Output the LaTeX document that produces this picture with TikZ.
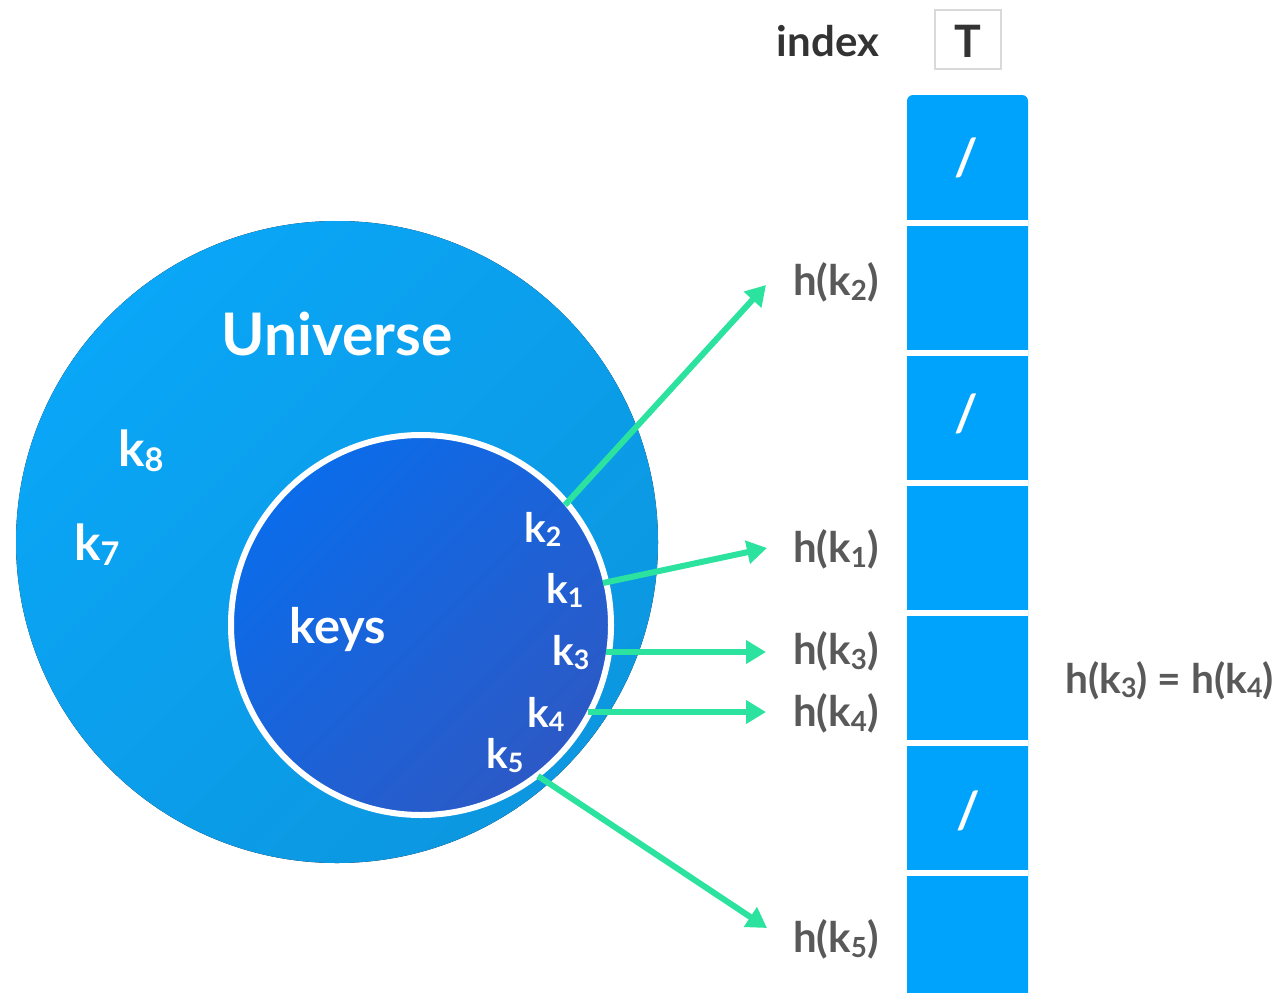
\documentclass[tikz,border=0pt]{standalone}
\usepackage{fontspec}
\setmainfont{Lato}
\usepackage{graphicx}
\usetikzlibrary{arrows.meta}
\definecolor{uniA}{HTML}{0AA6F7}
\definecolor{uniB}{HTML}{0C97E0}
\definecolor{keyA}{HTML}{0B6CEA}
\definecolor{keyB}{HTML}{2C59C6}
\definecolor{tbl}{HTML}{00A3FB}
\definecolor{arr}{HTML}{2BE39E}
\definecolor{hgray}{HTML}{595959}
\definecolor{darktxt}{HTML}{333333}
\definecolor{tbord}{HTML}{D9D9D9}
\newcommand\subd[1]{\raisebox{-0.12em}{\scalebox{0.66}{#1}}}
\tikzset{
  ksmall/.style={text=white, inner sep=0pt, anchor=base west, font=\fontsize{30.4pt}{36pt}\selectfont\bfseries},
  kbig/.style={text=white, inner sep=0pt, anchor=base west, font=\fontsize{37pt}{44pt}\selectfont\bfseries},
  hlab/.style={text=hgray, inner sep=0pt, anchor=base west, font=\fontsize{31.5pt}{38pt}\selectfont\bfseries},
  slotmark/.style={text=white, inner sep=0pt, font=\fontsize{38pt}{44pt}\selectfont\bfseries},
  hashar/.style={draw=arr, line width=4.5pt, -{Triangle[length=15pt,width=17pt]}},
  sepline/.style={draw=white, line width=4.5pt}
}
\begin{document}
\begin{tikzpicture}[x=0.75pt,y=-0.75pt]
\useasboundingbox (0,0) rectangle (1287,992);
% universe circle
\fill[top color=uniA, bottom color=uniB, shading angle=45] (337,542) circle (321);
% keys circle
\fill[top color=keyA, bottom color=keyB, shading angle=45] (421,625) circle (190);
\draw[white, line width=4.5pt] (421,625) circle (190);
% texts in circles
\node[text=white, inner sep=0pt, anchor=base, font=\fontsize{44pt}{52pt}\selectfont\bfseries] (universe) at (337,355) {Universe};
\node[text=white, inner sep=0pt, anchor=base, font=\fontsize{36.5pt}{44pt}\selectfont\bfseries] (keys) at (337.5,643) {keys};
\node[kbig] (k8) at (118,466) {k\subd{8}};
\node[kbig] (k7) at (74,560) {k\subd{7}};
\node[ksmall] (k2) at (524,542) {k\subd{2}};
\node[ksmall] (k1) at (546,603) {k\subd{1}};
\node[ksmall] (k3) at (552,665) {k\subd{3}};
\node[ksmall] (k4) at (527,727) {k\subd{4}};
\node[ksmall] (k5) at (486,768) {k\subd{5}};
% header
\node[text=darktxt, inner sep=0pt, anchor=base, font=\fontsize{31.5pt}{38pt}\selectfont\bfseries] (index) at (828,56) {index};
\draw[tbord, line width=0.9pt] (935,10) rectangle (1001,69);
\node[text=darktxt, inner sep=0pt, anchor=base, font=\fontsize{33.5pt}{40pt}\selectfont\bfseries] (T) at (968,57) {T};
% table
\begin{scope}
\clip (0,0) rectangle (1287,992);
\fill[tbl, rounded corners=4.5pt] (907,95) rectangle (1028,1010);
\end{scope}
\foreach \yy in {223,353,483,613,743,873}
  \draw[sepline] (907,\yy) -- (1028,\yy);
\node[slotmark] (s1) at (966,158) {/};
\node[slotmark] (s3) at (966,414) {/};
\node[slotmark] (s6) at (968,811) {/};
% hash labels
\node[hlab] (h2) at (793,295) {h(k\subd{2})};
\node[hlab] (h1) at (793,562) {h(k\subd{1})};
\node[hlab] (h3) at (793,664) {h(k\subd{3})};
\node[hlab] (h4) at (793,726) {h(k\subd{4})};
\node[hlab] (h5) at (793,952) {h(k\subd{5})};
\node[text=hgray, inner sep=0pt, anchor=base west, font=\fontsize{30.5pt}{36pt}\selectfont\bfseries] (heq) at (1065,693) {h(k\subd{3}) = h(k\subd{4})};
% arrows
\coordinate (a2) at (565,505);
\coordinate (a1) at (603,583);
\coordinate (a3) at (606,652);
\coordinate (a4) at (588,712);
\coordinate (a5) at (538,776);
\coordinate (t2) at (766,285);
\coordinate (t1) at (767,548);
\coordinate (t3) at (766,652);
\coordinate (t4) at (766,712);
\coordinate (t5) at (767,928);
\draw[hashar] (a2) -- (t2);
\draw[hashar] (a1) -- (t1);
\draw[hashar] (a3) -- (t3);
\draw[hashar] (a4) -- (t4);
\draw[hashar] (a5) -- (t5);
\end{tikzpicture}
\end{document}
